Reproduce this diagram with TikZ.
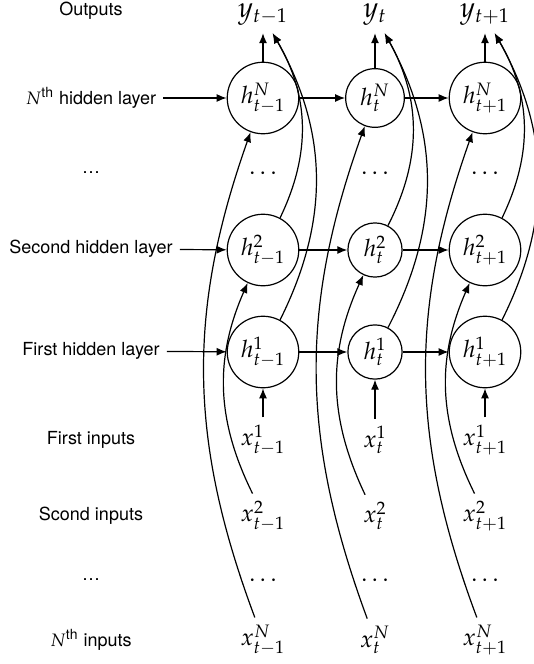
\documentclass[tikz,border=0pt]{standalone}
\usepackage{mathpazo}
\usepackage[no-math]{fontspec}
\setsansfont{TeX Gyre Heros}
\usetikzlibrary{arrows.meta}

\begin{document}
\begin{tikzpicture}[x=0.5pt, y=-0.5pt, semithick,
    >={Latex[length=5pt,width=4pt]},
    unit/.style={circle, draw, inner sep=3.2pt, font=\large},
    invar/.style={font=\large},
    outvar/.style={font=\Large},
    lab/.style={font=\fontsize{9}{11}\selectfont\sffamily}]
\useasboundingbox (0,0) rectangle (534,664);
% row labels
\node[lab] (lout) at (91,11) {Outputs};
\node[lab] (lhN) at (91,98) {$N$\textsuperscript{th} hidden layer};
\node[lab] (ldh) at (91,173) {\dots};
\node[lab] (lh2) at (91,249) {Second hidden layer};
\node[lab] (lh1) at (91,351) {First hidden layer};
\node[lab] (lx1) at (91,440) {First inputs};
\node[lab] (lx2) at (91,516) {Scond inputs};
\node[lab] (ldx) at (91,580) {\dots};
\node[lab] (lxN) at (91,640) {$N$\textsuperscript{th} inputs};
% one column per time step
\foreach \i/\x/\s in {1/263/t-1, 2/375/t, 3/485/t+1} {
  \node[outvar] (y\i) at (\x,15) {$y_{\s}$};
  \node[unit] (hN\i) at (\x,98) {$h^N_{\s}$};
  \node[invar] (dh\i) at (\x,173) {$\dots$};
  \node[unit] (h2\i) at (\x,250) {$h^2_{\s}$};
  \node[unit] (h1\i) at (\x,352) {$h^1_{\s}$};
  \node[invar] (x1\i) at (\x,440) {$x^1_{\s}$};
  \node[invar] (x2\i) at (\x,516) {$x^2_{\s}$};
  \node[invar] (dx\i) at (\x,580) {$\dots$};
  \node[invar] (xN\i) at (\x,640) {$x^N_{\s}$};
}
\foreach \i in {1,2,3} {
  \draw[->] (x1\i) -- (h1\i);
  \draw[->] (x2\i) to[bend left=25] (h2\i);
  \draw[->] (xN\i) to[bend left=20] (hN\i);
  \draw[->] (hN\i) -- (y\i);
  \draw[->] (h2\i) to[bend right=28] (y\i);
  \draw[->] (h1\i) to[bend right=28] (y\i);
}
\foreach \r in {N,2,1} {
  \draw[->] (lh\r) -- (h\r1);
  \draw[->] (h\r1) -- (h\r2);
  \draw[->] (h\r2) -- (h\r3);
}
\end{tikzpicture}
\end{document}
